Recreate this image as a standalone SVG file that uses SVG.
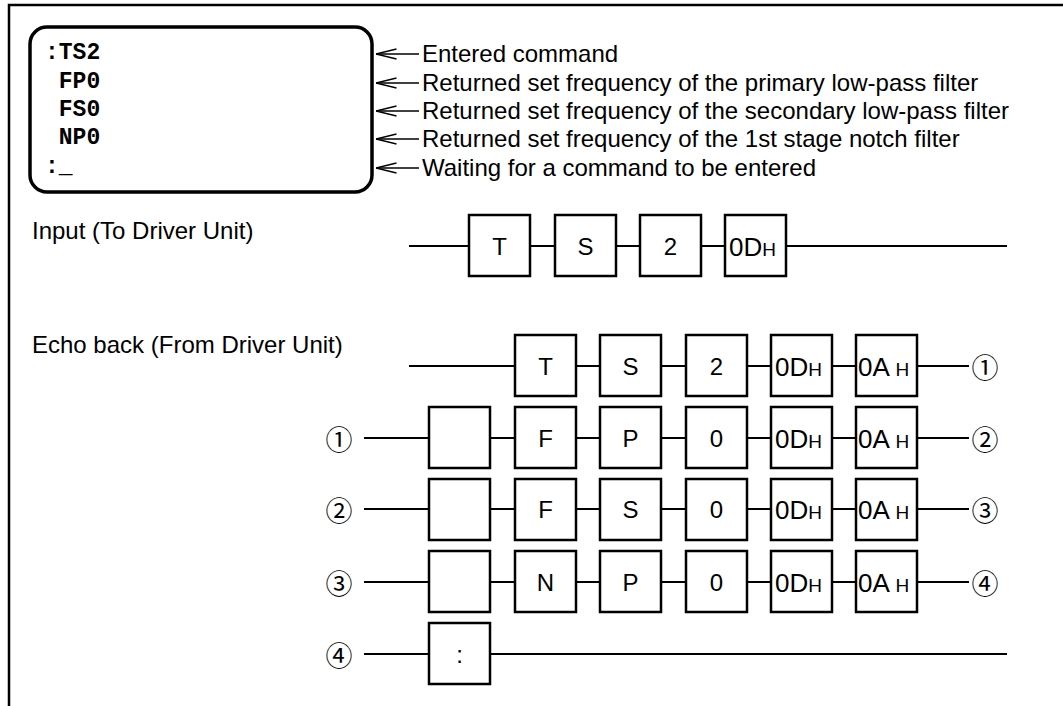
<svg xmlns="http://www.w3.org/2000/svg" width="1063" height="706" viewBox="0 0 1063 706">
<defs>
<marker id="open" viewBox="0 0 22 12" refX="0.5" refY="6" markerWidth="22" markerHeight="12" markerUnits="userSpaceOnUse" orient="auto">
<path d="M21,1 L0.5,6 L21,11" fill="none" stroke="#000" stroke-width="1.3"/>
</marker>
<style>
.frame{fill:none;stroke:#000;stroke-width:2.5}
.screen{fill:#fff;stroke:#000;stroke-width:3.5}
.mono{font-family:"Liberation Mono","Courier New",monospace;font-weight:bold;font-size:23px;fill:#000}
.lbl{font-family:"Liberation Sans",Arial,sans-serif;font-size:24px;fill:#000}
.ptr{stroke:#000;stroke-width:1.3;fill:none}
.box{fill:#fff;stroke:#000;stroke-width:2.5}
.ch{font-family:"Liberation Sans",Arial,sans-serif;font-size:24px;fill:#000;text-anchor:middle}
.hx{font-family:"Liberation Sans",Arial,sans-serif;font-size:26px;fill:#000}
.sm{font-size:19px}
.wire{stroke:#000;stroke-width:2.2;fill:none}
.cir{font-family:"Noto Sans CJK JP","DejaVu Sans",sans-serif;font-size:27px;fill:#000;text-anchor:middle;dominant-baseline:central}
</style>
</defs>
<rect width="1063" height="706" fill="#fff"/>
<path class="frame" d="M9,706 L9,5 L1063,5"/>

<g id="screen">
<rect class="screen" x="30" y="27" width="342" height="165" rx="17" ry="17"/>
<text class="mono" x="45" y="59" xml:space="preserve">:TS2</text>
<text class="mono" x="45" y="88" xml:space="preserve"> FP0</text>
<text class="mono" x="45" y="116" xml:space="preserve"> FS0</text>
<text class="mono" x="45" y="144" xml:space="preserve"> NP0</text>
<text class="mono" x="45" y="173" xml:space="preserve">:_</text>
</g>

<g id="annotations">
<line class="ptr" x1="376" y1="54" x2="419" y2="54" marker-start="url(#open)"/>
<line class="ptr" x1="376" y1="83" x2="419" y2="83" marker-start="url(#open)"/>
<line class="ptr" x1="376" y1="111" x2="419" y2="111" marker-start="url(#open)"/>
<line class="ptr" x1="376" y1="139" x2="419" y2="139" marker-start="url(#open)"/>
<line class="ptr" x1="376" y1="168" x2="419" y2="168" marker-start="url(#open)"/>
<text class="lbl" x="422" y="62">Entered command</text>
<text class="lbl" x="422" y="91">Returned set frequency of the primary low-pass filter</text>
<text class="lbl" x="422" y="119">Returned set frequency of the secondary low-pass filter</text>
<text class="lbl" x="422" y="147">Returned set frequency of the 1st stage notch filter</text>
<text class="lbl" x="422" y="176">Waiting for a command to be entered</text>
<text class="lbl" x="32" y="239">Input (To Driver Unit)</text>
<text class="lbl" x="32" y="353">Echo back (From Driver Unit)</text>
</g>

<g id="connectors">
<path class="wire" d="M409,246 H1007"/>
<path class="wire" d="M409,366 H969"/>
<path class="wire" d="M364,438 H969"/>
<path class="wire" d="M364,509 H969"/>
<path class="wire" d="M364,582 H969"/>
<path class="wire" d="M364,654 H1007"/>
</g>

<g id="input-row">
<rect class="box" x="469" y="215" width="61" height="61"/><text class="ch" x="499.5" y="255">T</text>
<rect class="box" x="555" y="215" width="61" height="61"/><text class="ch" x="585.5" y="255">S</text>
<rect class="box" x="640" y="215" width="61" height="61"/><text class="ch" x="670.5" y="255">2</text>
<rect class="box" x="725" y="215" width="61" height="61"/><text class="hx" x="729" y="256">0D<tspan class="sm">H</tspan></text>
</g>

<g id="echo-row">
<rect class="box" x="515" y="335" width="61" height="61"/><text class="ch" x="545.5" y="375">T</text>
<rect class="box" x="600" y="335" width="61" height="61"/><text class="ch" x="630.5" y="375">S</text>
<rect class="box" x="686" y="335" width="61" height="61"/><text class="ch" x="716.5" y="375">2</text>
<rect class="box" x="771" y="335" width="61" height="61"/><text class="hx" x="775" y="376">0D<tspan class="sm">H</tspan></text>
<rect class="box" x="856" y="335" width="61" height="61"/><text class="hx" x="858" y="376" xml:space="preserve">0A <tspan class="sm">H</tspan></text>
<text class="cir" x="985" y="366">①</text>
</g>

<g id="row-1">
<text class="cir" x="339" y="438">①</text>
<rect class="box" x="429" y="407" width="61" height="61"/>
<rect class="box" x="515" y="407" width="61" height="61"/><text class="ch" x="545.5" y="447">F</text>
<rect class="box" x="600" y="407" width="61" height="61"/><text class="ch" x="630.5" y="447">P</text>
<rect class="box" x="686" y="407" width="61" height="61"/><text class="ch" x="716.5" y="447">0</text>
<rect class="box" x="771" y="407" width="61" height="61"/><text class="hx" x="775" y="448">0D<tspan class="sm">H</tspan></text>
<rect class="box" x="856" y="407" width="61" height="61"/><text class="hx" x="858" y="448" xml:space="preserve">0A <tspan class="sm">H</tspan></text>
<text class="cir" x="985" y="438">②</text>
</g>

<g id="row-2">
<text class="cir" x="339" y="509">②</text>
<rect class="box" x="429" y="479" width="61" height="61"/>
<rect class="box" x="515" y="479" width="61" height="61"/><text class="ch" x="545.5" y="518">F</text>
<rect class="box" x="600" y="479" width="61" height="61"/><text class="ch" x="630.5" y="518">S</text>
<rect class="box" x="686" y="479" width="61" height="61"/><text class="ch" x="716.5" y="518">0</text>
<rect class="box" x="771" y="479" width="61" height="61"/><text class="hx" x="775" y="519">0D<tspan class="sm">H</tspan></text>
<rect class="box" x="856" y="479" width="61" height="61"/><text class="hx" x="858" y="519" xml:space="preserve">0A <tspan class="sm">H</tspan></text>
<text class="cir" x="985" y="509">③</text>
</g>

<g id="row-3">
<text class="cir" x="339" y="582">③</text>
<rect class="box" x="429" y="551" width="61" height="61"/>
<rect class="box" x="515" y="551" width="61" height="61"/><text class="ch" x="545.5" y="591">N</text>
<rect class="box" x="600" y="551" width="61" height="61"/><text class="ch" x="630.5" y="591">P</text>
<rect class="box" x="686" y="551" width="61" height="61"/><text class="ch" x="716.5" y="591">0</text>
<rect class="box" x="771" y="551" width="61" height="61"/><text class="hx" x="775" y="592">0D<tspan class="sm">H</tspan></text>
<rect class="box" x="856" y="551" width="61" height="61"/><text class="hx" x="858" y="592" xml:space="preserve">0A <tspan class="sm">H</tspan></text>
<text class="cir" x="985" y="582">④</text>
</g>

<g id="row-4">
<text class="cir" x="339" y="654">④</text>
<rect class="box" x="429" y="623" width="61" height="61"/><text class="ch" x="459.5" y="663">:</text>
</g>
</svg>
